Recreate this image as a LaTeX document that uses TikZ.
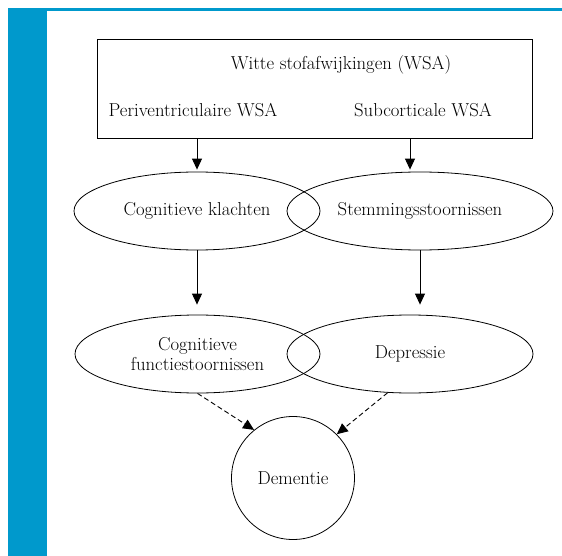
\documentclass[tikz,border=0pt]{standalone}
\usetikzlibrary{shapes.geometric,arrows.meta}
\definecolor{barblue}{RGB}{0,153,204}
\tikzset{
  txt/.style={font=\fontsize{18.7}{20}\selectfont},
  oval/.style={draw, ellipse, txt, line width=0.8pt, minimum width=246pt, minimum height=78pt, inner sep=0pt, align=center},
  lbl/.style={txt, inner sep=0pt},
  arr/.style={line width=0.9pt, -{Triangle[width=10pt,length=11pt]}},
  dasharr/.style={arr, dash pattern=on 5pt off 3pt}
}
\begin{document}
\begin{tikzpicture}[x=1pt,y=-1pt]
\useasboundingbox (0,0) rectangle (562,556);
% blue frame
\fill[barblue] (8,8) rectangle (47,556);
\fill[barblue] (47,8) rectangle (562,11);

% box with white matter lesions
\node[draw, line width=1pt, minimum width=435pt, minimum height=99pt, inner sep=0pt] (wsa) at (314.5,89.5) {};
\node[lbl] (titel) at (341,65) {Witte stofafwijkingen (WSA)};
\node[lbl] (peri) at (193,110) {Periventriculaire WSA};
\node[lbl] (sub) at (423,110) {Subcorticale WSA};

% ellipses
\node[oval] (klacht) at (197,211) {Cognitieve klachten};
\node[oval, minimum width=266pt] (stem) at (420,211) {Stemmingsstoornissen};
\node[oval, minimum width=245pt] (func) at (197.5,354) {Cognitieve\\functiestoornissen};
\node[oval] (depr) at (410,354) {Depressie};
\node[draw, circle, txt, line width=0.8pt, minimum size=123pt, inner sep=0pt] (dem) at (293,478) {Dementie};

% arrows
\draw[arr, shorten >=2pt] (wsa.south -| klacht.north) -- (klacht.north);
\draw[arr, shorten >=2pt] ([xshift=-10pt]stem.north |- wsa.south) -- ([xshift=-10pt]stem.north);
\draw[arr, shorten >=10pt] (klacht.south) -- (klacht.south |- func.north);
\draw[arr, shorten >=10pt] (stem.south) -- (stem.south |- depr.north);
\draw[dasharr] (func.south) -- (dem.129);
\draw[dasharr] (depr.-120) -- (dem.45);
\end{tikzpicture}
\end{document}
